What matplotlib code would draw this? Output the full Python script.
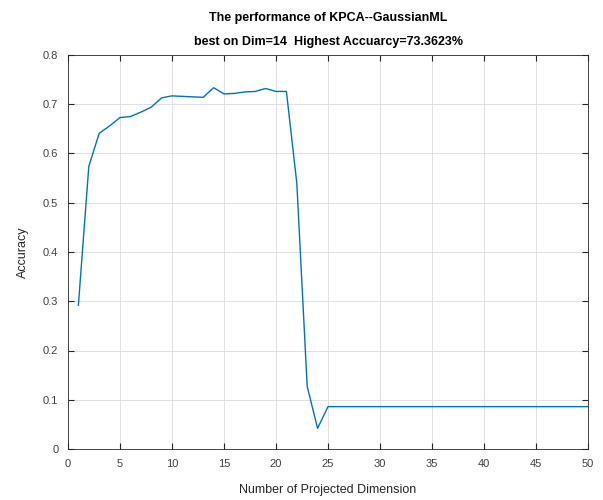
import numpy as np
import matplotlib
matplotlib.use('Agg')
import matplotlib.pyplot as plt

# data
dims = list(range(1, 51))
acc_head = [0.292, 0.574, 0.641, 0.656, 0.673, 0.675, 0.684, 0.694, 0.713, 0.717,
            0.716, 0.715, 0.714, 0.7336, 0.721, 0.722, 0.725, 0.726, 0.732, 0.726,
            0.726, 0.540, 0.127, 0.042, 0.086]
acc_tail = [0.086] * 25
accuracy = acc_head + acc_tail

plt.rcParams['font.family'] = ['Liberation Sans', 'DejaVu Sans']

fig = plt.figure(figsize=(6.03, 5.0), dpi=100)
ax = fig.add_axes([68 / 603, 51 / 500, 520 / 603, 394 / 500])

ax.plot(dims, accuracy, color='#0072BD', linewidth=1.0)

ax.set_xlim(0, 50)
ax.set_ylim(0, 0.8)
ax.set_xticks(np.arange(0, 51, 5))
ax.set_yticks(np.arange(0, 0.81, 0.1))
ax.set_yticklabels(['0', '0.1', '0.2', '0.3', '0.4', '0.5', '0.6', '0.7', '0.8'])
ax.grid(True, color='#dcdcdc', linewidth=0.6)
ax.set_axisbelow(True)
ax.tick_params(direction='in', length=4, labelsize=8, top=True, right=True,
               labeltop=False, labelright=False, color='#262626', labelcolor='#404040',
               pad=7)
for s in ax.spines.values():
    s.set_color('#262626')
    s.set_linewidth(0.6)

ax.set_xlabel('Number of Projected Dimension', fontsize=9, color='#262626', labelpad=11)
ax.set_ylabel('Accuracy', fontsize=9, color='#262626', labelpad=10)
ax.set_title('The performance of KPCA--GaussianML\nbest on Dim=14  Highest Accuarcy=73.3623%',
             fontsize=9, fontweight='bold', linespacing=2.4, pad=7)

fig.savefig('out.png', dpi=100)
